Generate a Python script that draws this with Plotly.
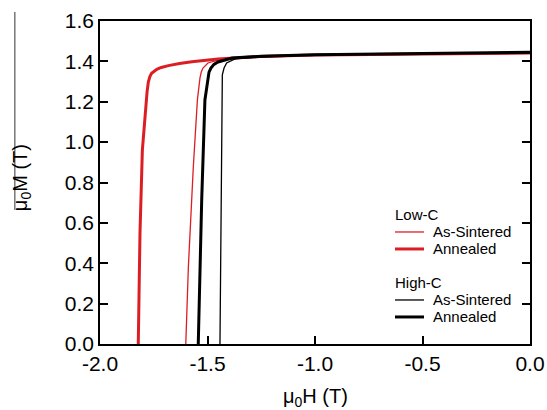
import plotly.graph_objects as go

# Demagnetization curves (mu0H in T, mu0M in T)
lowc_sint_H = [-1.601, -1.589, -1.566, -1.558, -1.547, -1.535, -1.529, -1.521, -1.498, -1.442, -1.30, -1.0, -0.5, 0.0]
lowc_sint_M = [0.0, 0.381, 0.877, 0.996, 1.209, 1.318, 1.347, 1.367, 1.392, 1.409, 1.420, 1.430, 1.436, 1.440]

lowc_ann_H = [-1.822, -1.814, -1.803, -1.792, -1.787, -1.781, -1.775, -1.768, -1.760, -1.749, -1.736,
              -1.715, -1.682, -1.630, -1.573, -1.451, -1.256, -1.0, -0.5, 0.0]
lowc_ann_M = [0.0, 0.55, 0.96, 1.12, 1.184, 1.25, 1.299, 1.325, 1.341, 1.352, 1.361,
              1.370, 1.379, 1.389, 1.398, 1.412, 1.424, 1.431, 1.437, 1.441]

highc_sint_H = [-1.442, -1.434, -1.431, -1.423, -1.411, -1.372, -1.25, -1.0, -0.5, 0.0]
highc_sint_M = [0.0, 1.209, 1.333, 1.367, 1.392, 1.412, 1.422, 1.432, 1.438, 1.444]

highc_ann_H = [-1.543, -1.527, -1.512, -1.499, -1.493, -1.484, -1.470, -1.451, -1.386, -1.25, -1.0, -0.5, 0.0]
highc_ann_M = [0.0, 0.713, 1.209, 1.318, 1.347, 1.367, 1.385, 1.397, 1.417, 1.425, 1.433, 1.439, 1.445]

group_titles = ["Low-C", "High-C"]
series_names = ["As-Sintered", "Annealed"]
x_ticks = [-2.0, -1.5, -1.0, -0.5, 0.0]
y_ticks = [0.0, 0.2, 0.4, 0.6, 0.8, 1.0, 1.2, 1.4, 1.6]

RED = "#dc1e24"
BLACK = "#000000"
FONT = "Liberation Sans, Arial, sans-serif"

fig = go.Figure()
series = [
    (lowc_sint_H, lowc_sint_M, RED, 1.3, 0, 0),
    (lowc_ann_H, lowc_ann_M, RED, 3.0, 0, 1),
    (highc_sint_H, highc_sint_M, BLACK, 1.3, 1, 0),
    (highc_ann_H, highc_ann_M, BLACK, 3.0, 1, 1),
]
for H, M, c, w, g, k in series:
    fig.add_trace(go.Scatter(
        x=H, y=M, mode="lines", name=f"{group_titles[g]} {series_names[k]}",
        line=dict(color=c, width=w), showlegend=False, hoverinfo="skip",
    ))

# Manual legend (paper coordinates)
annotations = []
shapes = []
title_y = [0.3994, 0.1889]
item_dy = 0.0526
for g, gt in enumerate(group_titles):
    annotations.append(dict(text=gt, xref="paper", yref="paper", x=0.6814, y=title_y[g],
                            xanchor="left", yanchor="middle", showarrow=False,
                            font=dict(size=15)))
for H, M, c, w, g, k in series:
    yy = title_y[g] - item_dy * (k + 1)
    shapes.append(dict(type="line", xref="paper", yref="paper", x0=0.686, x1=0.7535,
                       y0=yy, y1=yy, line=dict(color=c, width=w)))
    annotations.append(dict(text=series_names[k], xref="paper", yref="paper", x=0.7698, y=yy,
                            xanchor="left", yanchor="middle", showarrow=False,
                            font=dict(size=15)))

annotations += [
    dict(text="μ<sub>0</sub>H (T)", xref="paper", yref="paper", x=0.5, y=-0.165,
         xanchor="center", yanchor="middle", showarrow=False, font=dict(size=20)),
    dict(text="μ<sub>0</sub>M (T)", xref="paper", yref="paper", x=-0.181, y=0.514,
         xanchor="center", yanchor="middle", textangle=-90, showarrow=False, font=dict(size=20)),
]
shapes.append(dict(type="line", xref="paper", yref="paper", x0=-0.198, x1=-0.198, y0=0.415, y1=1.028,
                   line=dict(color="#333", width=1)))

fig.update_layout(
    template="none",
    width=547, height=410,
    margin=dict(l=100, r=17, t=21, b=66, pad=0),
    paper_bgcolor="white", plot_bgcolor="white",
    font=dict(family=FONT, size=20, color="#000"),
    showlegend=False,
    xaxis=dict(
        range=[-2.0, 0.0], tickvals=x_ticks, ticktext=[f"{v:.1f}" for v in x_ticks],
        ticks="inside", ticklen=8, tickwidth=1.5, tickcolor="#000",
        tickfont=dict(size=21),
        showline=True, linecolor="#000", linewidth=1.5, mirror=True,
        showgrid=False, zeroline=False, automargin=False,
    ),
    yaxis=dict(
        range=[0.0, 1.6], tickvals=y_ticks, ticktext=[f"{v:.1f}" for v in y_ticks],
        ticks="inside", ticklen=8, tickwidth=1.5, tickcolor="#000",
        tickfont=dict(size=21),
        showline=True, linecolor="#000", linewidth=1.5, mirror="ticks",
        showgrid=False, zeroline=False, automargin=False,
    ),
    annotations=annotations,
    shapes=shapes,
)

fig.write_html("out.html",
               config={"displayModeBar": False},
               post_script="document.body.style.margin='0';document.body.style.overflow='hidden';")
